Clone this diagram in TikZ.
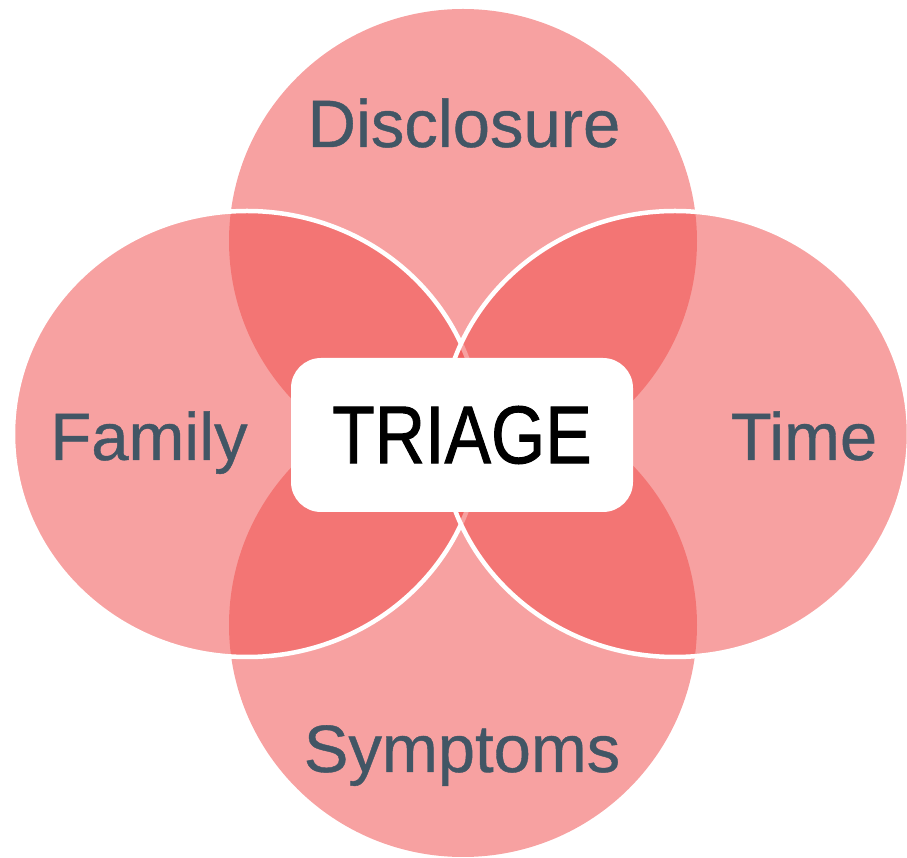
\documentclass[tikz,border=0pt]{standalone}
\usepackage{fontspec}
\setmainfont{Liberation Sans}
\newfontfamily\tagfont[FakeBold=0.6]{Liberation Sans}
\newfontfamily\hubfont[FakeBold=1.2]{Liberation Sans}
\usepackage{graphicx}
\usepackage{tikz}
\definecolor{petalred}{RGB}{240,78,77}
\definecolor{labelgrey}{RGB}{66,86,101}
\tikzstyle{petal}=[fill=petalred, fill opacity=0.53]
\tikzstyle{rim}=[petal, draw=white, line width=2.25pt]
\tikzstyle{tag}=[text=labelgrey, anchor=base, inner sep=0pt, font=\tagfont\fontsize{33.5}{40}\selectfont]
\tikzstyle{hub}=[fill=white, rounded corners=15pt, minimum width=171pt, minimum height=77pt, inner sep=0pt, font=\hubfont\fontsize{41}{48}\selectfont]
\providecommand{\tag}{\node[tag]}

\begin{document}
\begin{tikzpicture}[x=0.5pt, y=0.5pt]
\useasboundingbox (0,0) rectangle (907,858);
\coordinate (up) at (463,617);
\coordinate (down) at (463,233);
\coordinate (west) at (247,424);
\coordinate (east) at (675,424);
% four overlapping circles
\fill[petal] (up) ellipse [x radius=234, y radius=232];
\fill[petal] (down) ellipse [x radius=234, y radius=232];
\draw[rim] (west) ellipse [x radius=234, y radius=223];
\draw[rim] (east) ellipse [x radius=234, y radius=223];
% labels
\tag (disclosure) at (464,711) {Disclosure};
\tag (family) at (149,398) {Family};
\tag (time) at (804,398) {Time};
\tag (symptoms) at (462,86) {Symptoms};
\node[hub] (triage) at (462,423) {\scalebox{0.85}[1]{TRIAGE}};
\end{tikzpicture}
\end{document}
